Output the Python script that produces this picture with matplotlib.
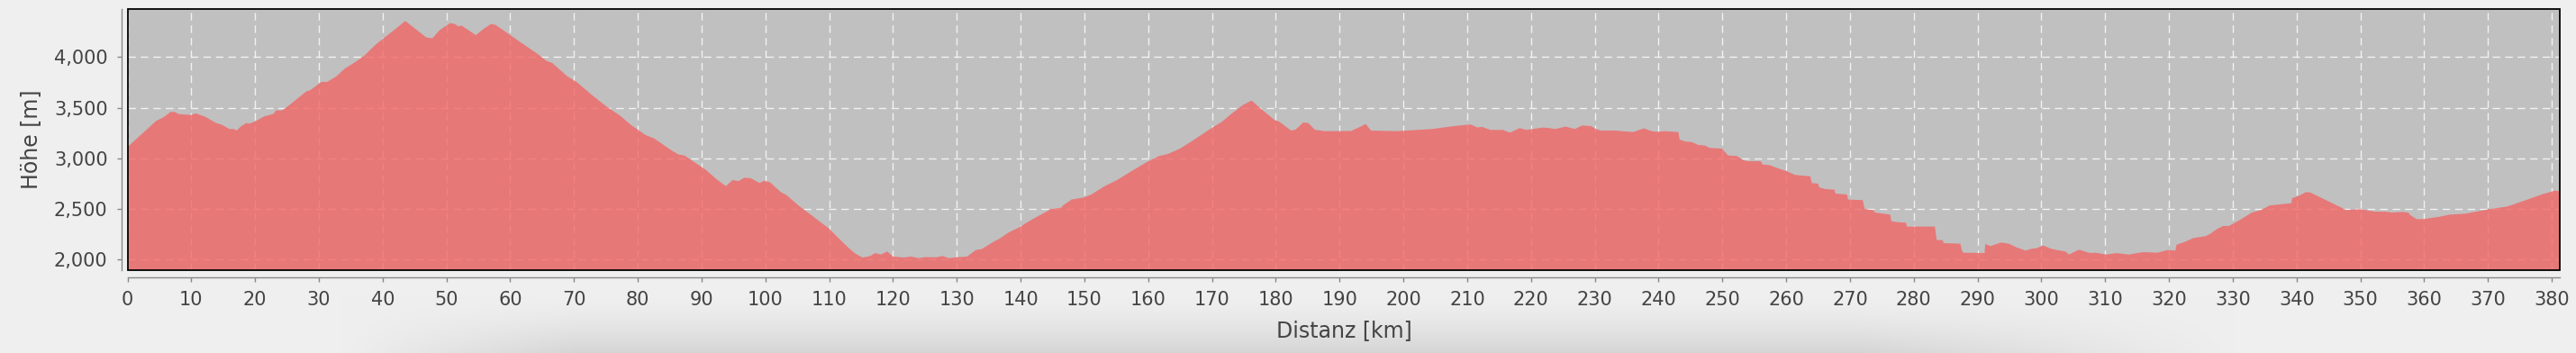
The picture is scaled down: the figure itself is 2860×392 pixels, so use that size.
import numpy as np
import matplotlib
matplotlib.use("Agg")
import matplotlib.pyplot as plt
from matplotlib.patches import Rectangle
from matplotlib.ticker import FuncFormatter, MultipleLocator

# elevation profile (km, m)
dist_km = [0, 0.16, 4.5, 5.7, 6.75, 7.4, 8.0, 9.9, 10.7, 12.1, 13.9, 14.75, 16.0, 16.7,
           17.1, 17.7, 18.6, 19.1, 20.0, 21.4, 22.85, 23.3, 24.25, 25.4, 26.85, 28.0, 28.7,
           30.4, 31.3, 32.7, 34.1, 35.1, 37.0, 38.85, 40.3, 42.1, 43.55, 46.85, 47.8,
           48.97, 50.6, 51.3, 51.9, 52.35, 54.6, 55.8, 56.97, 57.7, 58.85, 60.0, 61.9,
           64.3, 65.7, 66.6, 68.97, 70.4, 72.7, 75.1, 77.2, 78.85, 81.2, 82.6, 85.4, 86.4,
           87.3, 88.7, 90.6, 92.5, 93.8, 94.85, 95.8, 96.7, 97.7, 99.1, 99.8, 100.7, 102.4,
           103.3, 105.2, 107.1, 108.5, 109.9, 111.3, 113.0, 114.1, 115.2, 116.0, 116.5,
           117.2, 118.1, 119.1, 120.0, 121.7, 122.85, 124.0, 125.0, 126.85, 127.8, 128.7,
           130.1, 131.6, 133.0, 133.9, 135.8, 136.7, 138.1, 140.0, 140.7, 141.9, 143.8,
           144.7, 146.4, 146.6, 148.0, 149.9, 150.6, 151.1, 153.2, 155.1, 157.4, 159.8,
           161.7, 163.1, 165.0, 166.85, 168.3, 169.7, 171.6, 173.0, 174.85, 176.2, 177.7,
           179.8, 180.5, 182.4, 183.1, 184.3, 185.1, 186.1, 187.6, 191.8, 193.0, 194.1,
           194.9, 198.9, 204.5, 206.9, 209.2, 210.6, 211.6, 212.3, 213.7, 215.6, 216.7,
           218.2, 219.3, 221.9, 222.9, 223.8, 225.4, 226.9, 228.0, 229.4, 230.2, 230.9,
           233.2, 234.2, 236.0, 237.7, 238.9, 239.8, 241.0, 243.1, 243.3, 244.3, 245.2,
           246.2, 247.3, 248.0, 249.9, 250.9, 252.3, 253.2, 253.9, 256.0, 256.3, 257.4,
           258.6, 260.0, 261.4, 263.8, 264.0, 265.0, 265.2, 266.2, 267.6, 267.7, 269.5,
           269.7, 272.0, 272.3, 273.7, 273.9, 276.3, 276.5, 277.4, 278.8, 278.9, 283.3,
           283.6, 284.5, 284.7, 287.3, 287.6, 287.8, 291.1, 291.2, 292.0, 293.7, 294.9,
           296.0, 297.5, 298.6, 299.1, 300.3, 301.4, 302.4, 303.8, 304.3, 305.9, 307.6,
           308.5, 310.2, 311.8, 313.7, 315.1, 316.0, 318.2, 319.8, 321.0, 321.2, 322.6,
           323.8, 325.7, 326.4, 327.6, 328.5, 329.4, 331.1, 333.0, 334.4, 335.8, 339.2,
           339.3, 340.3, 341.5, 342.2, 345.7, 347.8, 349.9, 352.3, 353.9, 354.9, 356.5,
           357.5, 357.9, 358.8, 359.8, 362.2, 364.0, 366.4, 370.2, 373.0, 375.8, 378.4,
           380.5, 381.3]
elev_m = [3110, 3120, 3369, 3407, 3458, 3458, 3437, 3428, 3443, 3413, 3348, 3333, 3289, 3289,
          3274, 3310, 3348, 3342, 3363, 3413, 3437, 3473, 3473, 3526, 3600, 3659, 3674,
          3754, 3754, 3807, 3887, 3926, 4006, 4119, 4193, 4281, 4356, 4193, 4185,
          4267, 4335, 4326, 4302, 4311, 4216, 4276, 4326, 4317, 4267, 4216, 4133,
          4030, 3961, 3941, 3807, 3754, 3630, 3511, 3422, 3333, 3230, 3194, 3073, 3037,
          3028, 2969, 2889, 2785, 2726, 2785, 2775, 2809, 2803, 2756, 2779, 2764, 2667,
          2637, 2533, 2444, 2376, 2311, 2222, 2118, 2059, 2021, 2030, 2038,
          2065, 2050, 2080, 2030, 2021, 2030, 2015, 2024, 2024, 2036, 2015,
          2024, 2030, 2095, 2104, 2178, 2207, 2267, 2326, 2356, 2400, 2465,
          2498, 2513, 2533, 2593, 2613, 2631, 2643, 2726, 2785, 2874, 2963,
          3022, 3043, 3096, 3170, 3230, 3289, 3363, 3437, 3526, 3570, 3487,
          3378, 3363, 3274, 3283, 3354, 3348, 3283, 3268, 3270, 3304, 3339,
          3274, 3268, 3289, 3310, 3327, 3333, 3304, 3310, 3280, 3280, 3253,
          3298, 3280, 3304, 3298, 3289, 3313, 3289, 3324, 3318, 3289, 3274,
          3274, 3268, 3259, 3295, 3268, 3262, 3268, 3259, 3185, 3164, 3161,
          3132, 3126, 3102, 3096, 3028, 3022, 2984, 2972, 2972, 2939, 2933,
          2904, 2874, 2836, 2822, 2756, 2750, 2711, 2696, 2690, 2652, 2643,
          2593, 2587, 2498, 2489, 2465, 2444, 2379, 2370, 2364, 2326, 2326,
          2193, 2193, 2163, 2157, 2080, 2068, 2065, 2154, 2134, 2169, 2157,
          2124, 2089, 2110, 2110, 2139, 2110, 2095, 2080, 2050, 2098, 2065,
          2068, 2050, 2065, 2050, 2065, 2074, 2068, 2095, 2089, 2148, 2178,
          2213, 2231, 2252, 2305, 2332, 2332, 2391, 2465, 2489, 2535, 2557,
          2607, 2628, 2667, 2661, 2554, 2489, 2498, 2474, 2474, 2465, 2471,
          2465, 2436, 2400, 2400, 2421, 2444, 2453, 2498, 2524, 2584, 2643,
          2681, 2675]

W, H = 2860, 392
fig = plt.figure(figsize=(W / 100, H / 100), dpi=100, facecolor="#efefef")

# soft shadow along the bottom of the page
bg = fig.add_axes([0, 0, 1, 1], zorder=-10)
bg.set_axis_off()
xx = np.arange(W)[None, :]
yy = np.arange(H)[:, None]
horiz = np.clip((xx - 380) / 260, 0, 1) * np.clip((2480 - xx) / 420, 0, 1)
vert = np.clip((yy - 330) / 62, 0, 1) ** 1.5
shade = 239 - 26 * horiz * vert
bg.imshow(np.dstack([shade] * 3).astype(np.uint8), aspect="auto", extent=(0, 1, 0, 1),
          interpolation="bilinear")

left, right = 141.5 / W, 2842.3 / W
bottom, top = 1 - 300 / H, 1 - 10.3 / H
ax = fig.add_axes([left, bottom, right - left, top - bottom])
ax.set_facecolor("#c0c0c0")

ax.grid(True, color="#f2f2f2", lw=1.0, linestyle=(0, (6, 4)), zorder=0)
ax.set_axisbelow(True)
ax.fill_between(dist_km, elev_m, 0, facecolor=(242/255, 102/255, 102/255), alpha=0.8,
                lw=0, zorder=2)

ax.set_xlim(0, 381.3)
ax.set_ylim(1896, 4471)
ax.xaxis.set_major_locator(MultipleLocator(10))
ax.yaxis.set_major_locator(MultipleLocator(500))
ax.yaxis.set_major_formatter(FuncFormatter(lambda v, p: f"{int(v):,}"))

for s in ("top", "right"):
    ax.spines[s].set_visible(False)
ax.spines["left"].set_position(("outward", 4.9))
ax.spines["bottom"].set_position(("outward", 6.0))
for s in ("left", "bottom"):
    ax.spines[s].set_color("#888888")
    ax.spines[s].set_linewidth(1.0)
ax.add_patch(Rectangle((0, 0), 1, 1, transform=ax.transAxes, fill=False,
                       edgecolor="black", lw=1.3, clip_on=False, zorder=5))

ax.tick_params(axis="both", colors="#888888", labelcolor="#444444", labelsize=15,
               length=3.4, width=1.0)
ax.tick_params(axis="y", pad=7.5)
ax.tick_params(axis="x", pad=7)

ax.set_xlabel("Distanz [km]", fontsize=17, color="#444444")
ax.set_ylabel("Höhe [m]", fontsize=17, color="#444444")
ax.xaxis.set_label_coords(0.5, (300 - 367) / 290)
ax.xaxis.label.set_va("center")
ax.yaxis.set_label_coords((34 - 141.5) / 2700.8, 0.5)
ax.yaxis.label.set_va("center")

fig.savefig("out.png", dpi=100, facecolor=fig.get_facecolor())
